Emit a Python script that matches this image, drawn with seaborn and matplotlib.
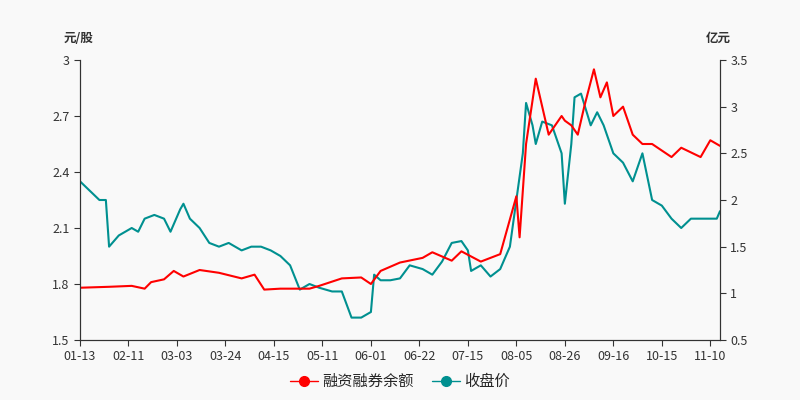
import numpy as np
import pandas as pd
import seaborn as sns
import matplotlib.pyplot as plt

# trading-day index -> date label every 15 days
tick_labels = ['01-13', '02-11', '03-03', '03-24', '04-15', '05-11', '06-01',
               '06-22', '07-15', '08-05', '08-26', '09-16', '10-15', '11-10']

# 收盘价 (元/股), left axis
price_day = [0, 3, 6, 8, 9, 12, 16, 18, 20, 23, 26, 28, 31, 32, 34, 37, 40, 43, 46, 50,
             53, 56, 59, 62, 65, 68, 71, 74, 78, 81, 84, 87, 90, 91, 93, 96, 99, 102, 106,
             109, 112, 115, 118, 120, 121, 124, 127, 130, 133, 137, 138, 140, 141, 143,
             146, 149, 150, 152, 153, 155, 158, 160, 162, 165, 168, 171, 174, 177, 180,
             183, 186, 189, 192, 197, 198]
price = [2.35, 2.30, 2.25, 2.25, 2.00, 2.06, 2.10, 2.08, 2.15, 2.17, 2.15, 2.08, 2.20,
         2.23, 2.15, 2.10, 2.02, 2.00, 2.02, 1.98, 2.00, 2.00, 1.98, 1.95, 1.90, 1.77,
         1.80, 1.78, 1.76, 1.76, 1.62, 1.62, 1.65, 1.85, 1.82, 1.82, 1.83, 1.90, 1.88,
         1.85, 1.92, 2.02, 2.03, 1.98, 1.87, 1.90, 1.84, 1.88, 2.00, 2.50, 2.77, 2.65,
         2.55, 2.67, 2.65, 2.50, 2.23, 2.55, 2.80, 2.82, 2.65, 2.72, 2.65, 2.50, 2.45,
         2.35, 2.50, 2.25, 2.22, 2.15, 2.10, 2.15, 2.15, 2.15, 2.19]

# 融资融券余额 (亿元), right axis
margin_day = [0, 9, 16, 20, 22, 26, 29, 32, 37, 43, 50, 54, 57, 62, 71, 74, 81, 87, 90,
              93, 99, 106, 109, 115, 118, 124, 130, 135, 136, 138, 141, 145, 149, 150,
              152, 154, 156, 159, 161, 163, 165, 168, 171, 174, 177, 183, 186, 192, 195,
              198]
margin = [1.06, 1.07, 1.08, 1.05, 1.12, 1.15, 1.24, 1.18, 1.25, 1.22, 1.16, 1.20,
          1.04, 1.05, 1.05, 1.08, 1.16, 1.17, 1.10, 1.24, 1.33, 1.38, 1.44, 1.35, 1.45,
          1.34, 1.42, 2.04, 1.60, 2.60, 3.30, 2.70, 2.90, 2.85, 2.80, 2.70, 3.00, 3.40,
          3.10, 3.26, 2.90, 3.00, 2.70, 2.60, 2.60, 2.46, 2.56, 2.46, 2.64, 2.58]

bg = '#f9f9f9'
red = '#ff0000'
teal = '#009090'

sns.set_style('ticks')
plt.rcParams['font.family'] = ['Noto Sans CJK SC', 'DejaVu Sans']

fig, ax = plt.subplots(figsize=(8, 4), dpi=100)
fig.patch.set_facecolor(bg)
ax.set_facecolor(bg)
ax2 = ax.twinx()

df_p = pd.DataFrame({'day': price_day, 'v': price})
df_m = pd.DataFrame({'day': margin_day, 'v': margin})
sns.lineplot(data=df_p, x='day', y='v', ax=ax, color=teal, lw=1.5)
sns.lineplot(data=df_m, x='day', y='v', ax=ax2, color=red, lw=1.5)

ax.set_xlim(0, 198)
ax.set_ylim(1.5, 3.0)
ax.set_yticks([1.5, 1.8, 2.1, 2.4, 2.7, 3.0])
ax.set_yticklabels(['1.5', '1.8', '2.1', '2.4', '2.7', '3'])
ax2.set_ylim(0.5, 3.5)
ax2.set_yticks([0.5, 1, 1.5, 2, 2.5, 3, 3.5])
ax2.set_yticklabels(['0.5', '1', '1.5', '2', '2.5', '3', '3.5'])
ax.set_xticks(np.arange(len(tick_labels)) * 15)
ax.set_xticklabels(tick_labels)
for a in (ax, ax2):
    a.set_xlabel('')
    a.set_ylabel('')
    a.tick_params(labelsize=9, colors='#333333', length=4)
    for s in a.spines.values():
        s.set_color('#333333')
    a.spines['top'].set_visible(False)

fig.text(0.08, 0.895, '元/股', fontsize=9, color='#333333', fontweight='bold')
fig.text(0.882, 0.895, '亿元', fontsize=9, color='#333333', fontweight='bold')

h1, = ax.plot([], [], color=red, marker='o', ms=7, lw=1)
h2, = ax.plot([], [], color=teal, marker='o', ms=7, lw=1)
fig.legend([h1, h2], ['融资融券余额', '收盘价'], loc='lower center', ncol=2,
           frameon=False, fontsize=11, bbox_to_anchor=(0.5, -0.01),
           handlelength=1.8, columnspacing=1.2, handletextpad=0.3)

plt.subplots_adjust(left=0.1, right=0.9, top=0.85, bottom=0.15)
fig.savefig('out.png', facecolor=bg)
